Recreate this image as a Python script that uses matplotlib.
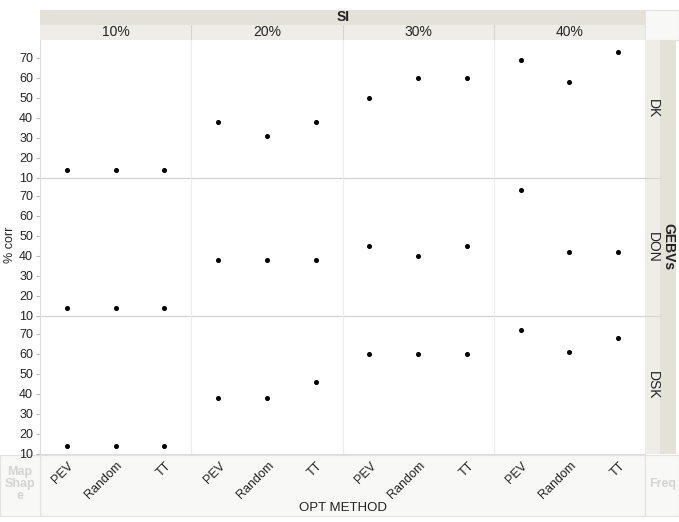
import matplotlib.pyplot as plt
import matplotlib.transforms as mtransforms
from matplotlib.patches import Rectangle

plt.rcParams['font.family'] = ['Liberation Sans', 'DejaVu Sans']

si_levels = ['10%', '20%', '30%', '40%']
gebvs = ['DK', 'DON', 'DSK']
methods = ['PEV', 'Random', 'TT']

# % corr per GEBV row, per SI column, in method order PEV, Random, TT
dk = [[14, 14, 14], [38, 31, 38], [50, 60, 60], [69, 58, 73]]
don = [[14, 14, 14], [38, 38, 38], [45, 40, 45], [73, 42, 42]]
dsk = [[14, 14, 14], [38, 38, 46], [60, 60, 60], [72, 61, 68]]
values = [dk, don, dsk]
yticks = [10, 20, 30, 40, 50, 60, 70]

W, H = 679, 522
fig = plt.figure(figsize=(W / 100, H / 100), dpi=100)


def box(x0, y0, x1, y1):
    # pixel box (top-left origin) -> figure rect
    return [x0 / W, 1 - y1 / H, (x1 - x0) / W, (y1 - y0) / H]


def rect(x0, y0, x1, y1, fc, ec='none', lw=0.8):
    fig.patches.append(Rectangle((x0 / W, 1 - y1 / H), (x1 - x0) / W, (y1 - y0) / H,
                                 transform=fig.transFigure, fc=fc, ec=ec, lw=lw, zorder=-5))


def ftext(x, y, s, **kw):
    fig.text(x / W, 1 - y / H, s, **kw)


L, R, T, B = 40, 645, 40, 454
cw = (R - L) / 4
rh = (B - T) / 3
grid_c = '#dcdcdc'

# background bands
rect(40, 455, 645, 516, '#f8f8f6', ec='#e2e2e2')
rect(0, 455, 40, 516, '#f8f8f6', ec='#e2e2e2')
rect(645, 455, 679, 516, '#f8f8f6', ec='#e2e2e2')
rect(40, 10, 645, 25, '#e3e1d8')
rect(40, 25, 645, 40, '#eeede7')
rect(645, 10, 679, 40, '#f8f8f6', ec='#e2e2e2')
rect(645, 40, 660, 454, '#eeede7')
rect(660, 40, 676, 454, '#e3e1d8')

for c in range(1, 4):
    fig.lines.append(plt.Line2D([(L + c * cw) / W] * 2, [1 - 25 / H, 1 - 40 / H],
                                transform=fig.transFigure, color='#d6d5cc', lw=0.8))
for r in range(1, 3):
    fig.lines.append(plt.Line2D([645 / W, 660 / W], [1 - (T + r * rh) / H] * 2,
                                transform=fig.transFigure, color='#d6d5cc', lw=0.8))

shift = mtransforms.ScaledTranslation(5 / 100, 0, fig.dpi_scale_trans)

for r, g in enumerate(gebvs):
    for c, s in enumerate(si_levels):
        ax = fig.add_axes(box(L + c * cw, T + r * rh, L + (c + 1) * cw, T + (r + 1) * rh))
        ax.set_zorder(3)
        ax.patch.set_alpha(0)
        ax.plot(range(len(methods)), values[r][c], 'o', color='black', ms=2.6, clip_on=False)
        ax.set_xlim(-0.55, 2.55)
        ax.set_ylim(10, 79)
        for sp in ax.spines.values():
            sp.set_color(grid_c)
            sp.set_linewidth(0.8)
        ax.spines['top'].set_visible(False)
        if c > 0:
            ax.spines['left'].set_color('#ececec')
        ax.spines['right'].set_visible(False)
        if r < 2:
            ax.spines['bottom'].set_color('#d0d0d0')
        ax.set_yticks(yticks)
        ax.tick_params(axis='y', length=3, color='#bbbbbb', labelsize=9, pad=2, labelcolor='#222222')
        if c > 0:
            ax.tick_params(axis='y', length=0, labelleft=False)
        ax.set_xticks(range(len(methods)))
        if r == 2:
            ax.set_xticklabels(methods, rotation=45, ha='right', va='center',
                               rotation_mode='anchor', fontsize=9, color='#222222')
            ax.tick_params(axis='x', length=0, pad=7)
            for lab in ax.get_xticklabels():
                lab.set_transform(lab.get_transform() + shift)
        else:
            ax.tick_params(axis='x', length=0, labelbottom=False)
        if r == 0:
            ftext(L + (c + 0.5) * cw, 32.5, s, ha='center', va='center', fontsize=10, color='#222222')
    ftext(653, T + (r + 0.5) * rh, g, ha='center', va='center', rotation=-90, fontsize=10, color='#222222')

ftext(343, 17, 'SI', ha='center', va='center', fontsize=10, fontweight='bold', color='#222222')
ftext(668, 247, 'GEBVs', ha='center', va='center', rotation=-90, fontsize=10,
      fontweight='bold', color='#222222')
ftext(10, 245, '% corr', ha='center', va='center', rotation=90, fontsize=9, color='#222222')
ftext(343, 508, 'OPT METHOD', ha='center', va='center', fontsize=9.5, color='#222222')
ftext(20, 484, 'Map\nShap\ne', ha='center', va='center', fontsize=9, fontweight='bold',
      color='#d4d4d4', linespacing=1.0)
ftext(663, 484, 'Freq', ha='center', va='center', fontsize=9, fontweight='bold', color='#d4d4d4')

fig.savefig('out.png', dpi=100)
